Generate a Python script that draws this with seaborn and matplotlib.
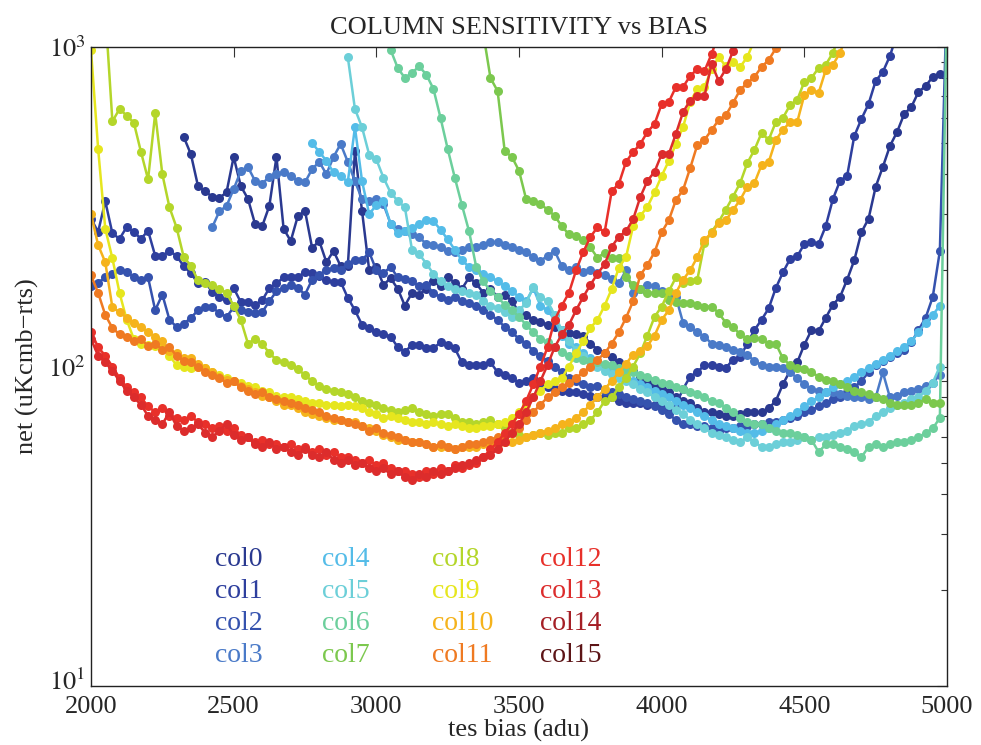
import matplotlib
matplotlib.use("Agg")
import matplotlib.pyplot as plt
import matplotlib.transforms as mtransforms
from matplotlib.ticker import NullLocator, LogLocator, FixedLocator, FixedFormatter
import numpy as np
import pandas as pd
import seaborn as sns

# ---------------- data ----------------
names = [f"col{i}" for i in range(16)]
colors = ['#2a3990', '#2e3f9e', '#3552ae', '#4a7ac8', '#54bce8', '#6ccfd8',
          '#6ccf9c', '#7cc84e', '#b4d62a', '#e6e61e', '#f5b31c', '#ef7a22',
          '#e8302a', '#dc2c2c', '#a51f26', '#5c1416']
step = 25  # tes bias step (adu)

col0_start = 2325
col0 = [523, 462, 367, 353, 340, 337, 351, 453, 367, 335, 279, 275, 318, 453, 270, 247,
        296, 307, 235, 247, 212, 230, 206, 206, 472, 306, 200, 205, 180, 189, 175, 155,
        170, 168, 175, 185, 178, 190, 183, 175, 190, 182, 170, 175, 165, 168, 160, 148,
        145, 140, 138, 135, 133, 130, 127, 126, 125, 118, 113, 110, 107, 103, 100, 97,
        93, 90, 87, 85, 83, 80, 78, 77, 74, 72, 72, 71, 70, 70, 71, 72, 72, 72, 74, 78,
        88, 97, 103, 117, 130, 129, 142, 156, 165, 187, 215, 263, 290, 365, 421, 490,
        542, 617, 649, 723, 755, 806, 825]

col1_start = 2000
col1 = [290, 264, 329, 261, 251, 273, 264, 251, 266, 222, 222, 230, 222, 206, 196, 182,
        184, 171, 165, 161, 176, 159, 159, 156, 161, 176, 182, 190, 190, 190, 198, 196,
        192, 186, 184, 184, 164, 150, 135, 132, 128, 126, 124, 115, 111, 117, 117, 114,
        114, 119, 117, 114, 103, 101, 101, 101, 103, 96, 94, 92, 89, 90, 92, 87, 86, 85,
        84, 83, 83, 82, 81, 80, 80, 80, 78, 77, 77, 77, 76, 76, 74, 72, 76, 85, 93, 96,
        101, 101, 100, 99, 105, 107, 118, 130, 140, 152, 176, 197, 217, 221, 242, 245,
        242, 275, 334, 381, 395, 526, 595, 663, 783, 835, 937, 1100]

col2_start = 2000
col2 = [178, 183, 190, 195, 200, 198, 190, 186, 190, 150, 168, 140, 133, 136, 142, 150,
        153, 153, 147, 143, 153, 150, 148, 147, 148, 160, 172, 176, 180, 176, 168, 187,
        194, 200, 203, 200, 210, 215, 215, 228, 200, 196, 205, 190, 188, 185, 178, 180,
        170, 165, 162, 165, 160, 158, 155, 150, 145, 140, 133, 128, 122, 118, 112, 108,
        104, 100, 96, 92, 90, 88, 86, 87, 84, 83, 82, 80, 79, 78, 77, 75, 73, 71, 68, 66,
        66, 65, 65, 64, 63, 64, 64, 65, 65, 66, 66, 67, 67, 68, 69, 70, 72, 73, 75, 77,
        79, 80, 83, 86, 90, 96, 101, 104, 107, 110, 113, 119, 130, 142, 165, 230, 1500]

col3_start = 2425
col3 = [273, 306, 318, 359, 409, 421, 381, 373, 393, 400, 407, 395, 381, 377, 415, 437,
        400, 453, 497, 437, 380, 334, 330, 334, 322, 280, 270, 266, 260, 254, 242, 240,
        236, 230, 228, 232, 236, 237, 240, 245, 245, 240, 237, 232, 228, 220, 214, 222,
        230, 206, 200, 205, 198, 200, 196, 193, 188, 182, 200, 170, 175, 180, 178, 172,
        168, 165, 137, 133, 128, 124, 118, 117, 115, 113, 111, 109, 104, 101, 100, 100,
        99, 96, 92, 88, 85, 84, 83, 83, 82, 81, 80, 80, 79, 80, 96, 80, 81, 83, 84, 85,
        87, 89, 94]

col4_start = 2775
col4 = [500, 470, 440, 405, 395, 378, 560, 380, 300, 320, 329, 279, 262, 265, 272, 280,
        288, 285, 268, 250, 232, 215, 205, 200, 195, 190, 185, 178, 172, 165, 160, 176,
        155, 150, 140, 125, 118, 115, 110, 106, 103, 100, 97, 95, 93, 90, 88, 86, 84, 82,
        80, 78, 76, 74, 72, 70, 68, 66, 65, 64, 63, 62, 62, 63, 64, 66, 68, 70, 72, 75,
        78, 80, 83, 86, 88, 90, 93, 96, 99, 102, 105, 108, 112, 115, 120, 128, 137, 145,
        155]

col5_start = 2900
col5 = [930, 640, 560, 460, 445, 390, 350, 330, 315, 232, 225, 210, 195, 185, 178, 175,
        172, 170, 168, 160, 155, 152, 148, 143, 150, 158, 177, 165, 160, 145, 130, 120,
        113, 108, 104, 100, 97, 95, 92, 90, 88, 85, 83, 80, 78, 76, 73, 71, 68, 66, 64,
        62, 61, 60, 59, 58, 60, 58, 56, 56, 57, 58, 58, 59, 60, 59, 60, 60, 61, 62, 63,
        65, 66, 67, 70, 72, 74, 76, 77, 79, 80, 84, 89, 100]

col6_start = 3025
col6 = [1200, 980, 860, 800, 830, 870, 820, 740, 600, 480, 390, 320, 265, 205, 185, 172,
        165, 156, 150, 143, 135, 128, 122, 119, 115, 111, 108, 106, 105, 104, 103, 102,
        101, 99, 97, 96, 94, 93, 91, 89, 88, 86, 85, 83, 82, 80, 78, 77, 74, 72, 69, 67,
        66, 66, 64, 63, 62, 62, 61, 60, 59, 54, 57, 57, 56, 55, 54, 52, 56, 57, 56, 57,
        58, 58, 59, 60, 62, 64, 69, 1500]

col7_start = 3375
col7 = [1100, 800, 728, 472, 453, 410, 334, 330, 322, 310, 296, 275, 259, 256, 248, 236,
        219, 227, 218, 218, 191, 180, 175, 170, 170, 170, 162, 159, 158, 158, 156, 154,
        154, 147, 137, 133, 126, 122, 123, 122, 118, 118, 106, 101, 99, 98, 96, 93, 91,
        90, 88, 86, 84, 83, 82, 80, 79, 77, 76, 76, 76, 77, 79, 77, 77]

col8_start = 2050
col8 = [1300, 585, 640, 610, 580, 470, 385, 620, 400, 315, 272, 220, 207, 186, 182, 180,
        175, 170, 155, 140, 118, 122, 118, 110, 105, 103, 101, 98, 94, 90, 87, 85, 84, 83,
        82, 80, 78, 77, 76, 74, 73, 72, 73, 74, 72, 71, 70, 71, 71, 69, 67, 67, 66, 67, 68,
        66, 64, 62, 61, 60, 61, 62, 61, 62, 62, 64, 64, 66, 68, 72, 78, 80, 86, 92, 100,
        110, 125, 143, 154, 172, 190, 182, 185, 187, 243, 264, 284, 310, 340, 375, 433,
        476, 538, 512, 582, 600, 658, 683, 778, 800, 860, 880, 958, 1100]

col9_start = 2000
col9 = [980, 480, 270, 218, 170, 140, 122, 118, 117, 116, 114, 108, 101, 100, 99, 100, 99,
        96, 94, 92, 90, 89, 87, 86, 84, 83, 81, 80, 80, 79, 78, 77, 77, 76, 76, 75, 76, 75,
        74, 72, 71, 69, 70, 69, 68, 67, 67, 66, 67, 66, 65, 66, 65, 64, 64, 65, 65, 66, 67,
        69, 72, 76, 80, 84, 88, 90, 92, 100, 110, 120, 132, 140, 155, 175, 204, 220, 275,
        296, 316, 351, 395, 440, 497, 562, 673, 740, 750, 853, 930, 870, 900, 866, 930, 1050]

col10_start = 2000
col10 = [300, 240, 212, 153, 148, 142, 137, 133, 128, 124, 120, 112, 110, 106, 106, 102,
         99, 96, 93, 91, 90, 87, 85, 83, 81, 80, 78, 76, 76, 74, 72, 71, 70, 69, 68, 68,
         67, 67, 65, 64, 63, 61, 60, 59, 59, 58, 58, 57, 56, 56, 56, 55, 56, 56, 56, 57,
         57, 57, 58, 58, 59, 60, 61, 62, 63, 64, 66, 67, 69, 72, 76, 80, 85, 90, 96, 102,
         109, 112, 116, 125, 140, 150, 170, 187, 200, 220, 249, 262, 281, 287, 309, 332,
         365, 375, 427, 436, 512, 550, 582, 582, 708, 734, 718, 847, 880, 958, 1100]

col11_start = 2000
col11 = [193, 170, 145, 132, 126, 124, 120, 122, 116, 118, 113, 115, 108, 104, 103, 100,
         96, 94, 92, 89, 90, 86, 84, 82, 83, 80, 79, 78, 77, 76, 74, 73, 72, 70, 69, 68,
         67, 66, 65, 63, 64, 62, 61, 60, 59, 58, 58, 57, 56, 57, 56, 55, 56, 57, 57, 58,
         59, 60, 61, 62, 64, 68, 72, 76, 80, 83, 86, 89, 92, 96, 100, 105, 110, 118, 128,
         142, 160, 193, 208, 228, 263, 287, 332, 357, 418, 494, 512, 550, 591, 612, 668,
         734, 771, 806, 866, 910, 990, 1100]

col12_start = 2000
col12 = [128, 115, 108, 100, 92, 86, 83, 80, 75, 72, 74, 70, 69, 68, 70, 67, 66, 64, 65,
         63, 64, 61, 60, 58, 59, 57, 57, 56, 57, 55, 56, 54, 55, 53, 54, 52, 52, 51, 50,
         51, 49, 50, 48, 47, 47, 46, 45, 47, 46, 48, 47, 49, 48, 49, 50, 52, 55, 58, 62,
         66, 71, 78, 88, 100, 115, 140, 155, 170, 200, 228, 254, 273, 263, 354, 373, 437,
         469, 497, 542, 574, 663, 673, 750, 750, 812, 853, 841, 951, 1100]

col13_start = 2000
col13 = [122, 108, 103, 97, 90, 84, 80, 76, 70, 68, 66, 72, 65, 63, 64, 66, 62, 60, 63,
         66, 61, 59, 60, 57, 56, 58, 55, 56, 54, 53, 55, 53, 52, 54, 51, 50, 51, 49, 50,
         48, 47, 48, 46, 47, 45, 44, 46, 45, 47, 46, 47, 48, 49, 50, 51, 52, 53, 55, 58,
         62, 66, 72, 80, 90, 101, 115, 126, 135, 150, 165, 180, 195, 209, 237, 255, 265,
         289, 339, 381, 407, 462, 462, 535, 626, 680, 703, 703, 885, 783, 853, 970, 1100]

col14_start = 2000
col14 = []
col15_start = 2000
col15 = []

series = [(col0_start, col0), (col1_start, col1), (col2_start, col2), (col3_start, col3),
          (col4_start, col4), (col5_start, col5), (col6_start, col6), (col7_start, col7),
          (col8_start, col8), (col9_start, col9), (col10_start, col10), (col11_start, col11),
          (col12_start, col12), (col13_start, col13), (col14_start, col14), (col15_start, col15)]

rows = []
for name, (start, vals) in zip(names, series):
    for i, v in enumerate(vals):
        rows.append((name, start + step * i, v))
df = pd.DataFrame(rows, columns=["col", "bias", "net"])

# ---------------- plot ----------------
sns.set_style("white")
plt.rcParams["font.family"] = ["Liberation Serif", "DejaVu Serif"]
plt.rcParams["mathtext.fontset"] = "stix"

fig = plt.figure(figsize=(9.81, 7.45), dpi=100)
ax = fig.add_axes([91 / 981, 1 - 686 / 745, 856 / 981, 639 / 745])

palette = dict(zip(names, colors))
plotted = [n for n in names if n in set(df["col"])]
sns.lineplot(data=df, x="bias", y="net", hue="col", hue_order=plotted, palette=palette,
             estimator=None, sort=False, marker="o", markersize=6.5,
             markeredgewidth=0, linewidth=1.8, legend=False, ax=ax)

ax.set_yscale("log")
ax.set_xlim(2000, 5000)
ax.set_ylim(10, 1000)
ax.set_xticks([2000, 2500, 3000, 3500, 4000, 4500, 5000])
ax.set_xticklabels(["2000", "2500", "3000", "3500", "4000", "4500", "5000"])
ax.xaxis.set_minor_locator(NullLocator())
ax.yaxis.set_major_locator(FixedLocator([10, 100, 1000]))
ax.yaxis.set_major_formatter(FixedFormatter([r"$10^{1}$", r"$10^{2}$", r"$10^{3}$"]))
ax.yaxis.set_minor_locator(LogLocator(base=10, subs=np.arange(2, 10)))
ax.tick_params(which="both", direction="in", top=True, right=True, labelsize=19,
               color="#333333", width=0.8)
ax.tick_params(which="major", length=7)
ax.tick_params(which="minor", length=4)
ax.tick_params(axis="x", pad=7)
ax.tick_params(axis="y", pad=4)
for sp in ax.spines.values():
    sp.set_color("#222222")
    sp.set_linewidth(1.0)

# nudge the lowest y label up a little so it does not collide with "2000"
fig.canvas.draw()
ylabs = ax.get_yticklabels()
if ylabs:
    ylabs[0].set_transform(ylabs[0].get_transform() +
                           mtransforms.ScaledTranslation(0, 7 / 100, fig.dpi_scale_trans))

ax.set_xlabel("tes bias (adu)", fontsize=19, labelpad=1)
ax.set_ylabel("net (uKcmb\u2212rts)", fontsize=19, labelpad=6)
ax.set_title("COLUMN SENSITIVITY vs BIAS", fontsize=19, pad=9)

# text legend (4 columns)
leg_x = [215, 322, 432, 540]
leg_y = [560, 592, 624, 656]
for i, (name, c) in enumerate(zip(names, colors)):
    px = leg_x[i // 4]
    py = leg_y[i % 4]
    ax.text((px - 91) / 856, (686 - py) / 639, name, color=c, fontsize=20,
            transform=ax.transAxes, ha="left", va="center")

fig.savefig("out.png", dpi=100)
